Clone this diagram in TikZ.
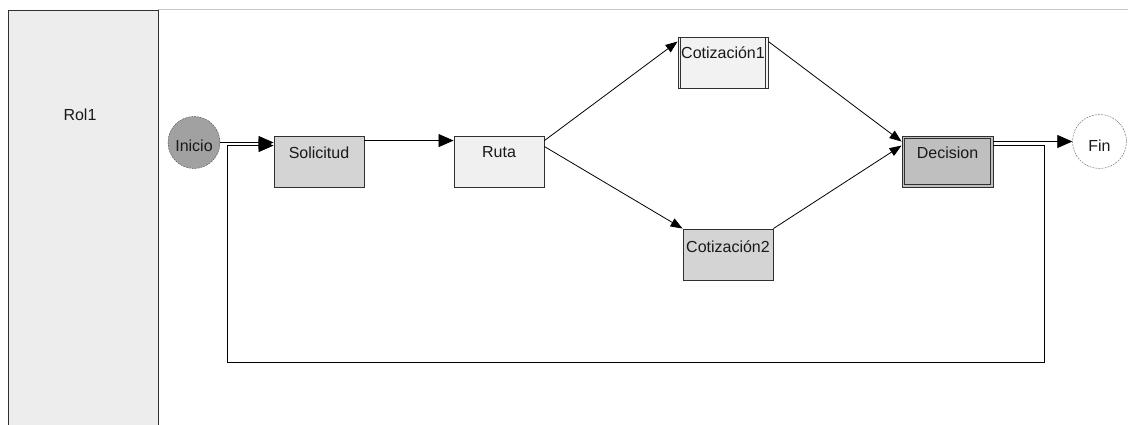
\documentclass[tikz,border=0pt]{standalone}
\usepackage{fontspec}
\setmainfont{Liberation Sans}
\usetikzlibrary{arrows.meta,calc}
\definecolor{linegray}{HTML}{303030}
\tikzset{
  every picture/.style={x=1pt,y=-1pt},
  lbl/.style={font=\fontsize{16}{18}\selectfont, text=black!90, inner sep=0pt},
  box/.style={draw=linegray, line width=0.9pt, minimum width=90pt, minimum height=51pt, inner sep=0pt},
  flow/.style={draw=black, line width=0.8pt},
  bighead/.style={-{Triangle[length=15pt,width=13pt]}},
  smallhead/.style={-{Triangle[length=12pt,width=9pt]}},
}
\begin{document}
\begin{tikzpicture}
\useasboundingbox[fill=white] (0,0) rectangle (1128,425);

% swimlane
\draw[gray!45, line width=1pt] (158,10) -- (1128,10);
\node[draw=linegray, fill=black!7, line width=0.9pt, minimum width=150pt, minimum height=420pt,
      anchor=north west, inner sep=0pt] (lane) at (8,10) {};
\node[lbl] at (80,115) {Rol1};

% events
\node[circle, draw=black!70, dash pattern=on 2pt off 1pt, fill=black!37, minimum size=52pt, inner sep=0pt] (inicio) at (194,142.5) {};
\node[lbl] at (194,146) {Inicio};
\node[circle, draw=black!60, dash pattern=on 2pt off 1pt, fill=white, minimum size=54pt, inner sep=0pt] (fin) at (1099.5,141.5) {};
\node[lbl] at (1099.5,146) {Fin};

% activities
\node[box, fill=black!17] (solicitud) at (319,161.5) {};
\node[lbl] at ([yshift=-17pt]solicitud.north) {Solicitud};
\node[box, fill=black!6] (ruta) at (499,161.5) {};
\node[lbl] at ([yshift=-17pt]ruta.north) {Ruta};
\node[box, fill=black!5] (cot1) at (723,62.5) {};
\draw[linegray, line width=0.8pt] ($(cot1.north west)+(3,0)$) -- ($(cot1.south west)+(3,0)$)
      ($(cot1.north east)+(-3,0)$) -- ($(cot1.south east)+(-3,0)$);
\node[lbl] at ([yshift=-16pt]cot1.north) {Cotización1};
\node[box, fill=black!17] (cot2) at (728,254.5) {};
\node[lbl] at ([yshift=-18pt]cot2.north) {Cotización2};
\node[box, fill=black!25, minimum width=91pt] (decision) at (947.5,161.5) {};
\draw[linegray, line width=0.8pt] ($(decision.north west)+(3,3)$) rectangle ($(decision.south east)+(-3,-3)$);
\node[lbl] at ([yshift=-17pt]decision.north) {Decision};

% loop back corners
\coordinate (loopR) at (1044,362);
\coordinate (loopL) at (227,362);

% connectors
\draw[flow, bighead] (inicio.east) -- (inicio.east -| solicitud.west);
\draw[flow, bighead] ($(decision.north east)+(0,10)$) -| (loopR) -- (loopL) |- ($(solicitud.north west)+(0,10)$);
\draw[flow, bighead] ($(solicitud.north east)+(0,5)$) -- ($(ruta.north west)+(0,5)$);
\draw[flow, smallhead] ($(ruta.north east)+(0,5)$) -- ($(cot1.north west)+(0,5)$);
\draw[flow, smallhead] ($(ruta.north east)+(0,11)$) -- (cot2.north west);
\draw[flow, smallhead] ($(cot1.north east)+(0,5)$) -- ($(decision.north west)+(0,6)$);
\draw[flow, smallhead] (cot2.north east) -- ($(decision.north west)+(0,10)$);
\draw[flow, bighead] (fin.west -| decision.east) -- (fin.west);
\end{tikzpicture}
\end{document}
